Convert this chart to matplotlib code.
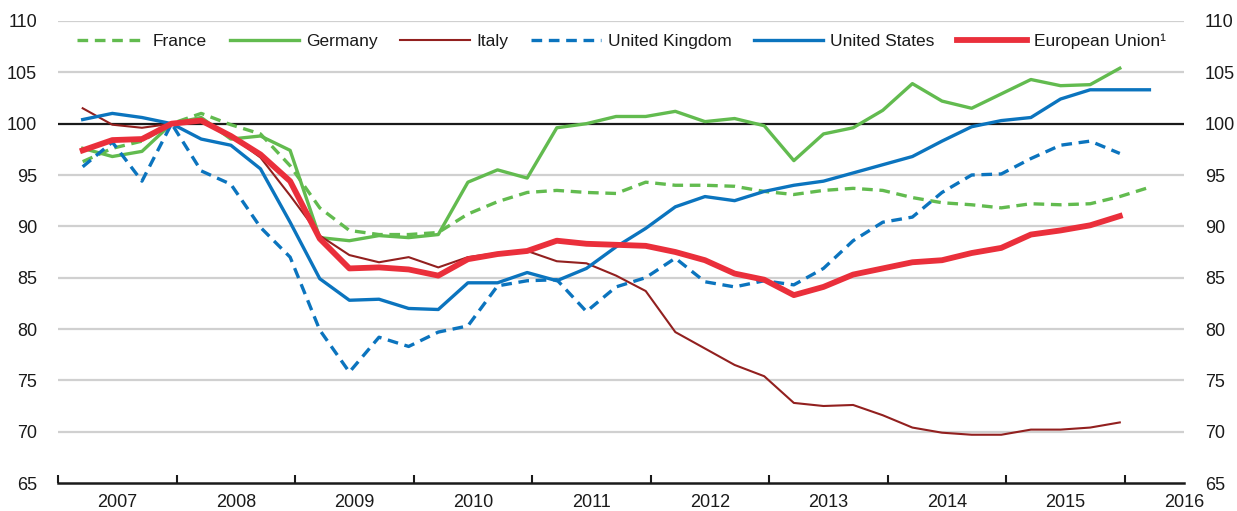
import matplotlib
matplotlib.use("Agg")
import matplotlib.pyplot as plt
from matplotlib.ticker import FixedLocator, NullFormatter, FixedFormatter

plt.rcParams['font.family'] = ['Liberation Sans', 'DejaVu Sans']

# Quarterly periods 2007Q1 .. 2016Q1
quarters = [f"{y}Q{q}" for y in range(2007, 2017) for q in range(1, 5)][:37]

france = [96.3, 97.6, 98.3, 100.0, 101.0, 99.9, 99.0, 95.9, 91.8, 89.6, 89.2, 89.2,
          89.4, 91.2, 92.4, 93.3, 93.5, 93.3, 93.2, 94.3, 94.0, 94.0, 93.9, 93.4,
          93.1, 93.5, 93.7, 93.5, 92.8, 92.3, 92.1, 91.8, 92.2, 92.1, 92.2, 92.9, 93.8]
germany = [97.6, 96.8, 97.3, 100.0, 100.6, 98.5, 98.8, 97.4, 88.9, 88.6, 89.1, 88.9,
           89.2, 94.3, 95.5, 94.7, 99.6, 100.0, 100.7, 100.7, 101.2, 100.2, 100.5, 99.8,
           96.4, 99.0, 99.6, 101.3, 103.9, 102.2, 101.5, 102.9, 104.3, 103.7, 103.8, 105.4]
italy = [101.5, 99.9, 99.6, 100.0, 100.2, 98.8, 96.7, 93.0, 89.1, 87.2, 86.5, 87.0,
         86.0, 87.0, 87.4, 87.6, 86.6, 86.4, 85.2, 83.7, 79.7, 78.1, 76.5, 75.4,
         72.8, 72.5, 72.6, 71.6, 70.4, 69.9, 69.7, 69.7, 70.2, 70.2, 70.4, 70.9]
uk = [95.8, 98.2, 94.4, 100.0, 95.4, 94.1, 89.9, 87.0, 79.9, 75.8, 79.2, 78.3,
      79.7, 80.3, 84.2, 84.7, 84.8, 81.7, 84.1, 85.0, 86.9, 84.6, 84.1, 84.7,
      84.3, 85.9, 88.6, 90.4, 90.9, 93.3, 95.0, 95.1, 96.6, 97.9, 98.3, 97.1]
us = [100.4, 101.0, 100.6, 100.0, 98.5, 97.9, 95.6, 90.4, 84.9, 82.8, 82.9, 82.0,
      81.9, 84.5, 84.5, 85.5, 84.7, 85.9, 88.0, 89.8, 91.9, 92.9, 92.5, 93.4,
      94.0, 94.4, 95.2, 96.0, 96.8, 98.3, 99.7, 100.3, 100.6, 102.4, 103.3, 103.3, 103.3]
eu = [97.4, 98.4, 98.5, 100.0, 100.3, 98.8, 97.0, 94.4, 88.8, 85.9, 86.0, 85.8,
      85.2, 86.8, 87.3, 87.6, 88.6, 88.3, 88.2, 88.1, 87.5, 86.7, 85.4, 84.8,
      83.3, 84.1, 85.3, 85.9, 86.5, 86.7, 87.4, 87.9, 89.2, 89.6, 90.1, 91.0]

years = list(range(2007, 2017))
year_labels = [str(y) for y in years]
y_ticks = [65, 70, 75, 80, 85, 90, 95, 100, 105, 110]


def qpos(label):
    y, q = label.split("Q")
    return int(y) + (3 * int(q) - 0.5) / 12.0


x = [qpos(q) for q in quarters]

GREEN = "#62BB4F"
DRED = "#92201F"
BLUE = "#0B74BE"
RED = "#EA2F3B"
TXT = "#1A1A1A"

fig = plt.figure(figsize=(12.37, 5.11), dpi=100)
ax = fig.add_axes([58 / 1237, 1 - 483 / 511, (1184 - 58) / 1237, (483 - 21) / 511])

for yv in y_ticks[1:]:
    if yv == 100:
        continue
    ax.axhline(yv, color="#D0D0D0", lw=1.6, zorder=0)
ax.axhline(100, color=TXT, lw=1.6, zorder=1)

ax.plot(x[:len(france)], france, color=GREEN, lw=2.4, dashes=(3.2, 2.0), label="France", zorder=3)
ax.plot(x[:len(germany)], germany, color=GREEN, lw=2.4, label="Germany", zorder=3)
ax.plot(x[:len(italy)], italy, color=DRED, lw=1.5, label="Italy", zorder=3)
ax.plot(x[:len(uk)], uk, color=BLUE, lw=2.4, dashes=(3.2, 2.0), label="United Kingdom", zorder=4)
ax.plot(x[:len(us)], us, color=BLUE, lw=2.4, label="United States", zorder=4)
ax.plot(x[:len(eu)], eu, color=RED, lw=4.2, label="European Union\u00b9", zorder=5)

ax.set_xlim(2007, 2016.5)
ax.set_ylim(65, 110)

for s in ["top", "right", "left"]:
    ax.spines[s].set_visible(False)
ax.spines["bottom"].set_linewidth(1.8)
ax.spines["bottom"].set_color(TXT)

ax.xaxis.set_major_locator(FixedLocator(years))
ax.xaxis.set_major_formatter(NullFormatter())
ax.xaxis.set_minor_locator(FixedLocator([y + 0.5 for y in years]))
ax.xaxis.set_minor_formatter(FixedFormatter(year_labels))
ax.tick_params(axis="x", which="major", direction="in", length=6, width=1.5, color=TXT)
ax.tick_params(axis="x", which="minor", length=0, pad=8, labelsize=13, labelcolor=TXT)

ax.set_yticks(y_ticks)
ax.set_yticklabels([str(v) for v in y_ticks])
ax.tick_params(axis="y", which="both", length=0, labelsize=13, labelcolor=TXT,
               left=True, right=True, labelleft=True, labelright=True, pad=15)

leg = ax.legend(loc="upper center", bbox_to_anchor=(0.5, 0.987), ncol=6, frameon=False,
                fontsize=12.5, handlelength=4.0, handletextpad=0.4, columnspacing=1.3,
                borderaxespad=0.0)
for t in leg.get_texts():
    t.set_color(TXT)

fig.savefig("out.png", dpi=100)
